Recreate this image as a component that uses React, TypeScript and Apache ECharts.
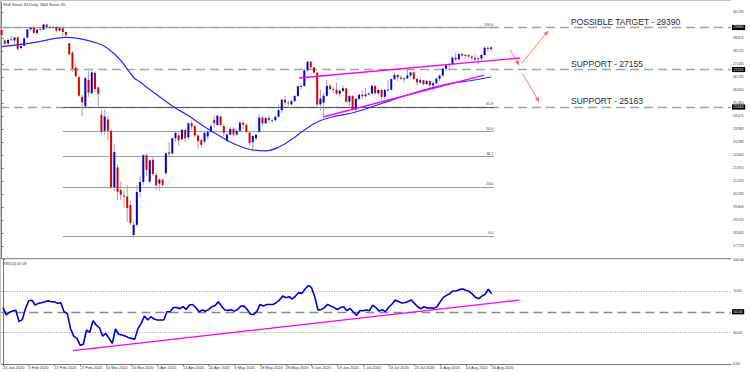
import { useEffect, useRef } from 'react';
import * as echarts from 'echarts';

// ---------- data ----------
const dateLabels = ['24 Jan 2020', '5 Feb 2020', '17 Feb 2020', '27 Feb 2020', '10 Mar 2020', '20 Mar 2020', '1 Apr 2020', '14 Apr 2020', '24 Apr 2020', '6 May 2020', '18 May 2020', '28 May 2020', '9 Jun 2020', '19 Jun 2020', '1 Jul 2020', '13 Jul 2020', '23 Jul 2020', '4 Aug 2020', '14 Aug 2020', '26 Aug 2020'];
const barsPerLabel = 8;
const slotCount = 227;

const opens = [29250, 28700, 28540, 28760, 28700, 28860, 28300, 28420, 28850, 29290, 29380, 29100, 29300, 29280, 29551, 29423, 29398, 29420, 29232, 29350, 29150, 28550, 28050, 27250, 26750, 25700, 25200, 26600, 25900, 26970, 26200, 24750, 23900, 24500, 23900, 20900, 21950, 20750, 20460, 20400, 19950, 18360, 18900, 20650, 21180, 22600, 21200, 22350, 21550, 21100, 21300, 21650, 22750, 22700, 23500, 23650, 23450, 23950, 23550, 24300, 24150, 23650, 23400, 23320, 23600, 23850, 24470, 24200, 24650, 24150, 23350, 23700, 24000, 23700, 23900, 24330, 24220, 23800, 23300, 23500, 23850, 24600, 24300, 24576, 24474, 24465, 24650, 25000, 25548, 25401, 25300, 25475, 25743, 26270, 26282, 27111, 27572, 27272, 26990, 25300, 25400, 25763, 26290, 26120, 26080, 25871, 26025, 26156, 25446, 25746, 25016, 25596, 25813, 25735, 25827, 25880, 26287, 25890, 26067, 25706, 26075, 26086, 26643, 26870, 26735, 26672, 26681, 26840, 27006, 26652, 26470, 26585, 26379, 26540, 26314, 26428, 26664, 26828, 27202, 27387, 27433, 27791, 27687, 27977, 27897, 27931, 27845, 27778, 27693, 27740, 27930, 28308, 28248];
const highs = [29300, 28760, 28800, 28950, 28880, 28940, 28600, 28890, 29300, 29410, 29390, 29290, 29415, 29568, 29560, 29460, 29440, 29430, 29410, 29370, 29170, 28560, 28150, 27500, 26800, 25800, 26750, 27084, 27102, 27050, 26250, 25020, 25020, 24700, 23950, 23200, 22100, 21200, 20700, 21000, 20150, 19070, 21020, 21500, 22650, 22700, 22400, 22500, 21700, 21400, 21350, 22780, 23300, 23550, 23850, 23800, 24000, 23970, 24350, 24450, 24200, 23700, 23500, 23850, 23920, 24250, 24750, 24760, 24730, 24250, 23780, 24100, 24100, 24000, 24400, 24450, 24300, 23900, 23650, 23700, 24765, 24700, 24650, 24700, 24560, 24700, 25300, 25600, 25760, 25500, 25550, 25800, 26300, 26400, 27200, 27600, 27600, 27300, 27000, 26100, 25900, 26600, 26400, 26200, 26450, 26100, 26300, 26200, 25800, 25800, 25650, 25900, 26050, 26200, 25950, 26350, 26300, 26150, 26100, 26100, 26600, 26700, 27000, 26900, 26850, 26750, 27150, 27050, 27100, 26700, 26700, 26600, 26600, 26550, 26500, 26750, 26900, 27250, 27420, 27500, 27850, 28050, 28000, 28050, 27980, 27950, 27900, 27950, 27800, 27960, 28400, 28400, 28380];
const lows = [28850, 28440, 28480, 28680, 28460, 28170, 28250, 28400, 28830, 29220, 29050, 29000, 29240, 29270, 29310, 29320, 29360, 29140, 29220, 28930, 28860, 27920, 27030, 26700, 25700, 24680, 25100, 25707, 25800, 25950, 25200, 23707, 23690, 23400, 20800, 20700, 20200, 20200, 19800, 19050, 18890, 18213, 18800, 20400, 21000, 21500, 21100, 21500, 20750, 20700, 20900, 21550, 22550, 22600, 23300, 23100, 23400, 23300, 23400, 23950, 23550, 22950, 23000, 23250, 23450, 23800, 24050, 24150, 24100, 23600, 23300, 23650, 23600, 23650, 23850, 24000, 23750, 23100, 22800, 23400, 23800, 24150, 24250, 24300, 24300, 24400, 24600, 24850, 25300, 25100, 25250, 25450, 25700, 26100, 26250, 27050, 27150, 26900, 25100, 24950, 24700, 25700, 26050, 25900, 25800, 25700, 25950, 25400, 25200, 24950, 24900, 25500, 25600, 25700, 25780, 25850, 25850, 25800, 25550, 25600, 26000, 26050, 26600, 26550, 26600, 26450, 26650, 26750, 26600, 26300, 26400, 26300, 26350, 26100, 26000, 26400, 26550, 26800, 27100, 27200, 27400, 27600, 27650, 27800, 27750, 27750, 27650, 27600, 27450, 27650, 27900, 28150, 28150];
const closes = [28990, 28536, 28723, 28734, 28859, 28256, 28400, 28808, 29291, 29380, 29103, 29277, 29276, 29551, 29423, 29398, 29420, 29232, 29348, 29150, 28992, 27960, 27200, 26800, 25767, 25409, 26703, 25917, 27000, 26121, 25865, 23851, 24650, 23900, 20900, 22772, 20650, 20500, 20400, 19800, 19000, 18900, 20645, 21180, 22600, 21815, 22330, 21600, 21000, 21300, 21020, 22700, 22680, 23500, 23780, 23400, 23950, 23500, 24300, 24150, 23650, 23350, 23150, 23780, 23850, 24134, 24300, 24700, 24200, 23800, 23700, 24000, 23700, 23900, 24330, 24220, 23850, 23248, 23625, 23685, 24597, 24300, 24576, 24474, 24465, 24650, 24995, 25548, 25401, 25383, 25475, 25743, 26270, 26282, 27111, 27572, 27272, 26990, 25300, 25606, 25763, 26290, 26120, 26080, 25871, 26025, 26156, 25446, 25746, 25016, 25596, 25813, 25735, 25827, 25880, 26287, 25890, 26067, 25706, 26075, 26086, 26643, 26870, 26735, 26672, 26681, 26840, 27006, 26652, 26470, 26585, 26379, 26540, 26314, 26428, 26664, 26828, 27202, 27387, 27433, 27791, 27687, 27977, 27897, 27931, 27845, 27778, 27693, 27740, 27930, 28308, 28248, 28332];

const maBars = [0, 10, 20, 22, 30, 33, 37, 41, 43, 46, 50, 54, 58, 63, 68, 73, 78, 82, 86, 90, 94, 98, 102, 110, 118, 126, 134, 140, 146, 152];
const maValues = [28374, 28587, 28863, 28847, 28539, 28273, 27635, 26732, 26492, 26094, 25589, 25110, 24701, 24111, 23595, 23144, 22878, 22835, 23021, 23436, 23941, 24366, 24605, 24898, 25350, 25801, 26200, 26439, 26572, 26758];

const rsiValues = [54, 47, 49.5, 50.6, 51.5, 40.5, 42.5, 53, 60.5, 61, 56.4, 58, 58.6, 59.6, 60.5, 59.6, 59.6, 58, 58.6, 50, 48.4, 34, 26.7, 24.5, 18, 19, 32.5, 30.3, 41.5, 37.3, 34.7, 26.7, 29.3, 24.5, 19.7, 33.5, 28.4, 27.7, 26.7, 25.4, 24.5, 23.8, 34, 38.9, 45.9, 42.1, 45.2, 43, 42.1, 42.1, 42.1, 50, 50, 54, 54, 53, 54.8, 52.2, 56.4, 57, 53.8, 50, 51.6, 50.6, 52.2, 54.8, 56, 59.6, 55.4, 51.6, 51.3, 52, 50.6, 52.2, 55.4, 55.4, 52.2, 47.7, 47.4, 50.3, 57, 55.4, 57, 57, 57, 58.6, 61.2, 65, 63.4, 64.4, 62.2, 65, 68.3, 67.6, 71.8, 75.2, 73, 64.4, 51.6, 52.2, 54, 57, 55.4, 54, 52.2, 54, 54.8, 51, 53.2, 49.7, 46.5, 51, 51, 51.6, 51, 56.4, 54, 50.6, 52, 50.1, 54.3, 57.2, 61.2, 59.9, 58.3, 58.6, 59.9, 61.2, 58, 54.8, 52.9, 54.8, 53.5, 53.8, 53.2, 54.8, 59.3, 63.8, 65.7, 67.3, 69.9, 69.9, 71.2, 71.8, 70.5, 69.6, 67, 63.8, 62.5, 65, 66.6, 71.5, 67.1];
const rsiLast = '67.09';

const priceTicks = [17775, 18465, 19155, 19845, 20535, 21225, 21915, 22605, 23295, 23985, 24675, 25365, 26055, 26745, 27435, 28125, 28815, 30195];
const rsiTicks = [0, 30, 70, 100];
const levelValues = [29390, 27155, 25163];
const levelTexts = ['POSSIBLE TARGET - 29390', 'SUPPORT - 27155', 'SUPPORT - 25163'];
const fibLabels = ['0.0', '23.6', '38.2', '50.0', '61.8', '100.0'];
const fibValues = [18307, 20923, 22541, 23849, 25156, 29390];
const fibStartBar = [19, 19, 19, 19, 19, -0.5];
const fibEndBar = 152.9;
const trendUpper = [[92.4, 26705], [161, 27768]];
const trendLower = [[99.8, 24632], [149.8, 26864]];
const arrowLines = [
  [[161.5, 27486], [169.7, 29203]],
  [[157.9, 28193], [160.7, 27396]],
  [[161.7, 26955], [166.9, 25445]],
];
const rsiTrend = [[21.8, 12.7], [160.7, 61.2]];
const rsiMid = 50;
const rsiBands = [70, 30];

// ---------- option ----------
const FONT = 'Liberation Sans, Arial, sans-serif';

function buildOption() {
  const candles = opens.map((o, i) => [i, o, closes[i], lows[i], highs[i]]);
  const labelBars = dateLabels.map((_, k) => k * barsPerLabel);

  const levelLines = levelValues.map((v) => ({
    yAxis: v,
    lineStyle: { color: '#a3a3a3', width: 1.4, type: [9, 5] },
    label: {
      show: true, position: 'end', formatter: String(v), color: '#fff', backgroundColor: '#000',
      fontSize: 3.6, fontFamily: FONT, padding: [0.8, 1.6, 0.4, 1.6], distance: 1,
    },
  }));
  const fibLines = fibValues.map((v, k) => [
    {
      coord: [fibStartBar[k], v],
      lineStyle: { color: k === 4 ? '#555' : '#a0a0a0', width: 1, type: 'solid' },
      label: { show: true, position: 'insideEndTop', formatter: fibLabels[k], fontSize: 3.6, color: '#333', fontFamily: FONT, distance: 0.8 },
    },
    { coord: [fibEndBar, v] },
  ]);

  return {
    animation: false,
    backgroundColor: '#fff',
    textStyle: { fontFamily: FONT },
    grid: [
      { left: 0, right: 19, top: 2, height: 256 },
      { left: 0, right: 19, top: 259.5, height: 104.5 },
    ],
    xAxis: [
      { type: 'value', gridIndex: 0, min: -0.5, max: slotCount - 0.5, show: false },
      {
        type: 'value', gridIndex: 1, min: -0.5, max: slotCount - 0.5,
        axisLine: { show: true, lineStyle: { color: '#777', width: 1 } },
        axisTick: { show: true, length: 2, customValues: labelBars, lineStyle: { color: '#777' } },
        axisLabel: {
          customValues: labelBars, fontSize: 3.9, color: '#333', align: 'left', margin: 1.5,
          formatter: (v: number) => dateLabels[Math.round(v / barsPerLabel)] ?? '',
        },
        splitLine: { show: false },
      },
    ],
    yAxis: [
      {
        type: 'value', gridIndex: 0, position: 'right', min: 17137, max: 30745,
        axisLine: { show: true, lineStyle: { color: '#777', width: 1 } },
        axisTick: { show: true, length: 2, customValues: priceTicks, lineStyle: { color: '#777' } },
        axisLabel: { customValues: priceTicks, fontSize: 3.5, color: '#333', margin: 2 },
        splitLine: { show: false },
      },
      {
        type: 'value', gridIndex: 1, position: 'right', min: 0, max: 100,
        axisLine: { show: true, lineStyle: { color: '#777', width: 1 } },
        axisTick: { show: true, length: 2, customValues: rsiTicks, lineStyle: { color: '#777' } },
        axisLabel: { customValues: rsiTicks, fontSize: 3.5, color: '#333', margin: 2, formatter: (v: number) => v.toFixed(2) },
        splitLine: { show: false },
      },
    ],
    series: [
      {
        type: 'custom', name: 'candles', xAxisIndex: 0, yAxisIndex: 0, z: 3,
        data: candles,
        encode: { x: 0, y: [1, 2, 3, 4] },
        renderItem: (_params: any, api: any) => {
          const i = api.value(0);
          const o = api.value(1), c = api.value(2), l = api.value(3), h = api.value(4);
          const pO = api.coord([i, o]);
          const pC = api.coord([i, c]);
          const pL = api.coord([i, l]);
          const pH = api.coord([i, h]);
          const w = api.size([1, 0])[0] * 0.62;
          const top = Math.min(pO[1], pC[1]);
          const hgt = Math.max(Math.abs(pO[1] - pC[1]), 0.8);
          return {
            type: 'group',
            children: [
              { type: 'line', shape: { x1: pL[0], y1: pL[1], x2: pH[0], y2: pH[1] }, style: { stroke: '#9a9a9a', lineWidth: 0.9 } },
              { type: 'rect', shape: { x: pO[0] - w / 2, y: top, width: w, height: hgt }, style: { fill: c >= o ? '#0000e0' : '#e00000' } },
            ],
          };
        },
      },
      {
        type: 'line', name: 'ma', xAxisIndex: 0, yAxisIndex: 0, z: 4,
        data: maBars.map((b, k) => [b, maValues[k]]),
        smooth: 0.4, showSymbol: false, symbol: 'none',
        lineStyle: { color: '#2a2aff', width: 1.2 },
        markLine: {
          silent: true, z: 1, symbol: ['none', 'none'], animation: false,
          data: [...levelLines, ...fibLines],
        },
      },
      {
        type: 'line', name: 'trendUpper', xAxisIndex: 0, yAxisIndex: 0, z: 5,
        data: trendUpper, showSymbol: false, symbol: 'none',
        lineStyle: { color: '#ff00ff', width: 1.3 },
        markLine: {
          silent: true, z: 6, symbol: ['none', 'arrow'], symbolSize: [3.5, 5], animation: false,
          lineStyle: { color: '#ff5555', width: 0.8, type: 'solid' },
          label: { show: false },
          data: arrowLines.map(([a, b]) => [{ coord: a }, { coord: b }]),
        },
      },
      {
        type: 'line', name: 'trendLower', xAxisIndex: 0, yAxisIndex: 0, z: 5,
        data: trendLower, showSymbol: false, symbol: 'none',
        lineStyle: { color: '#ff00ff', width: 1.3 },
      },
      {
        type: 'line', name: 'rsi', xAxisIndex: 1, yAxisIndex: 1, z: 4,
        data: rsiValues.map((v, i) => [i, v]),
        showSymbol: false, symbol: 'none',
        lineStyle: { color: '#0000cc', width: 1.6 },
        markLine: {
          silent: true, z: 1, symbol: ['none', 'none'], animation: false,
          data: [
            ...rsiBands.map((v) => ({ yAxis: v, lineStyle: { color: '#8a8a8a', width: 0.8, type: [1, 1.6] }, label: { show: false } })),
            {
              yAxis: rsiMid, lineStyle: { color: '#8a8a8a', width: 1.3, type: [9, 5] },
              label: {
                show: true, position: 'end', formatter: rsiMid.toFixed(2), color: '#fff', backgroundColor: '#000',
                fontSize: 3.6, fontFamily: FONT, padding: [0.8, 1.6, 0.4, 1.6], distance: 1,
              },
            },
          ],
        },
      },
      {
        type: 'line', name: 'rsiTrend', xAxisIndex: 1, yAxisIndex: 1, z: 5,
        data: rsiTrend, showSymbol: false, symbol: 'none',
        lineStyle: { color: '#ff00ff', width: 1.3 },
      },
    ],
    graphic: [
      { type: 'line', silent: true, shape: { x1: 0, y1: 0.5, x2: 731, y2: 0.5 }, style: { stroke: '#c4c4c4', lineWidth: 1 } },
      { type: 'line', silent: true, shape: { x1: 0.5, y1: 0, x2: 0.5, y2: 364 }, style: { stroke: '#c4c4c4', lineWidth: 1 } },
      { type: 'line', silent: true, shape: { x1: 0, y1: 258.7, x2: 731, y2: 258.7 }, style: { stroke: '#8f8f8f', lineWidth: 1.3 } },
      { type: 'text', silent: true, x: 3, y: 4.5, style: { text: 'Wall Street 30,Daily  Wall Street 30', fill: '#333', fontSize: 4, fontFamily: FONT, verticalAlign: 'middle' } },
      { type: 'text', silent: true, x: 3, y: 263.5, style: { text: 'RSI(14) ' + rsiLast, fill: '#333', fontSize: 3.8, fontFamily: FONT, verticalAlign: 'middle' } },
      { type: 'text', silent: true, x: 571, y: 21.5, style: { text: levelTexts[0], fill: '#2b2b2b', fontSize: 8.5, fontFamily: FONT, verticalAlign: 'middle' } },
      { type: 'text', silent: true, x: 571, y: 64, style: { text: levelTexts[1], fill: '#2b2b2b', fontSize: 8.5, fontFamily: FONT, verticalAlign: 'middle' } },
      { type: 'text', silent: true, x: 571, y: 100.7, style: { text: levelTexts[2], fill: '#2b2b2b', fontSize: 8.5, fontFamily: FONT, verticalAlign: 'middle' } },
    ],
  };
}

export default function App() {
  const ref = useRef<HTMLDivElement>(null);
  useEffect(() => {
    document.body.style.margin = '0';
    const chart = echarts.init(ref.current as HTMLDivElement, null, { renderer: 'svg' });
    chart.setOption(buildOption() as any);
    return () => chart.dispose();
  }, []);
  return <div ref={ref} style={{ position: 'fixed', left: 0, top: 0, width: 750, height: 372, background: '#fff' }} />;
}
